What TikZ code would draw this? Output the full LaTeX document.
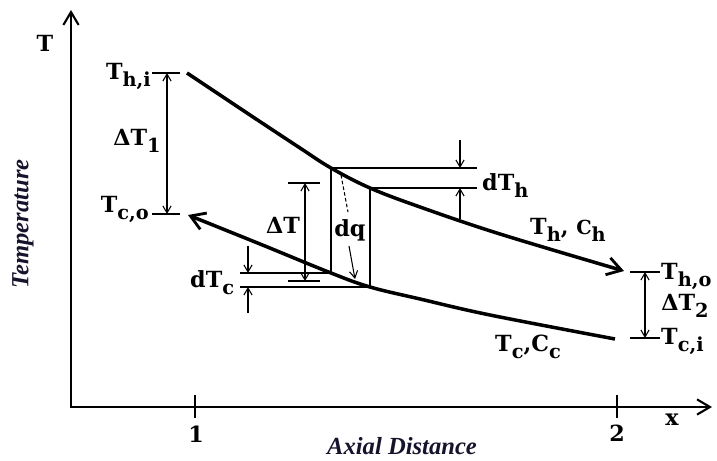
\documentclass[tikz,border=0pt]{standalone}
\usepackage{fontspec}
\setmainfont{DejaVu Serif}
\newfontfamily\axfont{Liberation Serif}
\usetikzlibrary{arrows.meta}
\newcommand\lsub[1]{\raisebox{-0.3em}{\fontsize{16.5}{16.5}\selectfont #1}}
\definecolor{axcol}{RGB}{22,20,45}
\begin{document}
\begin{tikzpicture}[x=0.03cm,y=-0.03cm,
  lab/.style={font=\fontsize{19}{22}\selectfont\bfseries, inner sep=0pt},
  axlab/.style={font=\axfont\fontsize{21}{24}\selectfont\bfseries\itshape, inner sep=0pt, text=axcol},
  axisline/.style={line width=1.8pt, {Straight Barb[length=11pt,width=13pt,line width=1.8pt]}-{Straight Barb[length=11pt,width=13pt,line width=1.8pt]}},
  curve/.style={line width=3pt, -{Straight Barb[length=12pt,width=15pt,line width=2.4pt]}},
  thinl/.style={line width=0.9pt},
  strip/.style={line width=1.6pt},
  dim/.style={thinl, {Straight Barb[length=6pt,width=7pt]}-{Straight Barb[length=6pt,width=7pt]}},
  pt/.style={thinl, -{Straight Barb[length=6pt,width=7pt]}},
]
\useasboundingbox (0,0) rectangle (717,461);
% axes
\coordinate (Ytop) at (71,10);
\coordinate (O) at (71,407);
\coordinate (Xend) at (712,407);
\draw[axisline] (Ytop) -- (O) -- (Xend);
\coordinate (t1a) at (195,395); \coordinate (t1b) at (195,418);
\coordinate (t2a) at (617,395); \coordinate (t2b) at (617,418);
\draw[line width=1.2pt] (t1a) -- (t1b);
\draw[line width=1.2pt] (t2a) -- (t2b);
\node[lab] (one) at (196,434) {1};
\node[lab] (two) at (617,433) {2};
\node[lab] (xl) at (672,420) {x};
\node[lab] (tl) at (45,43) {T};
\node[axlab, rotate=90] (templ) at (23,224) {Temperature};
\node[axlab] (axl) at (402,446) {Axial Distance};
% curve points
\coordinate (H1) at (187,73);
\coordinate (H2) at (331,168);
\coordinate (H3) at (370,188);
\coordinate (H4) at (624,271);
\coordinate (C1) at (615,339);
\coordinate (C3) at (370,287);
\coordinate (C2) at (331,273);
\coordinate (C4) at (188,215);
\draw[curve] plot[smooth, tension=0.6] coordinates {(H1) (250,115) (300,148) (H2) (H3) (420,207) (500,234) (H4)};
\draw[curve] plot[smooth, tension=0.6] coordinates {(C1) (490,315) (420,299) (C3) (C2) (260,244) (C4)};
% element strip
\draw[strip] (H2) -- (C2);
\draw[strip] (H3) -- (C3);
% dT_h
\coordinate (hA) at (477,168); \coordinate (hB) at (477,188);
\draw[thinl] (H2) -- (hA);
\draw[thinl] (H3) -- (hB);
\coordinate (hp1) at (460,140); \coordinate (hq1) at (460,168);
\coordinate (hp2) at (460,219); \coordinate (hq2) at (460,188);
\draw[pt] (hp1) -- (hq1);
\draw[pt] (hp2) -- (hq2);
\node[lab, anchor=base west] (dth) at (482,191) {dT\lsub{h}};
% dT_c
\coordinate (cA) at (240,273); \coordinate (cB) at (240,287);
\draw[thinl] (cA) -- (C2);
\draw[thinl] (cB) -- (C3);
\coordinate (cp1) at (248,246); \coordinate (cq1) at (248,273);
\coordinate (cp2) at (248,313); \coordinate (cq2) at (248,287);
\draw[pt] (cp1) -- (cq1);
\draw[pt] (cp2) -- (cq2);
\node[lab, anchor=base west] (dtc) at (190,288) {dT\lsub{c}};
% Delta T
\coordinate (dA1) at (288,183); \coordinate (dA2) at (320,183);
\coordinate (dB1) at (288,281); \coordinate (dB2) at (320,281);
\coordinate (dT1) at (305,183); \coordinate (dT2) at (305,281);
\draw[thinl] (dA1) -- (dA2);
\draw[thinl] (dB1) -- (dB2);
\draw[dim] (dT1) -- (dT2);
\node[lab] (dtl) at (283,225) {ΔT};
% dq
\coordinate (q1) at (341,175); \coordinate (q2) at (348,212);
\coordinate (q3) at (349,246); \coordinate (q4) at (355,279);
\draw[thinl, dash pattern=on 3pt off 2pt] (q1) -- (q2);
\draw[pt] (q3) -- (q4);
\node[lab] (dq) at (350,230) {dq};
% Delta T1
\coordinate (a1) at (152,73); \coordinate (a2) at (180,73);
\coordinate (b1) at (152,214); \coordinate (b2) at (180,214);
\coordinate (v1) at (167,73); \coordinate (v2) at (167,214);
\draw[thinl] (a1) -- (a2);
\draw[thinl] (b1) -- (b2);
\draw[dim] (v1) -- (v2);
\node[lab, anchor=base east] (thi) at (151,80) {T\lsub{h,i}};
\node[lab] (dt1) at (137,141) {ΔT\lsub{1}};
\node[lab, anchor=base east] (tco) at (149,213) {T\lsub{c,o}};
% Delta T2
\coordinate (e1) at (630,272); \coordinate (e2) at (660,272);
\coordinate (f1) at (630,338); \coordinate (f2) at (660,338);
\coordinate (w1) at (645,272); \coordinate (w2) at (645,338);
\draw[thinl] (e1) -- (e2);
\draw[thinl] (f1) -- (f2);
\draw[dim] (w1) -- (w2);
\node[lab, anchor=base west] (tho) at (661,280) {T\lsub{h,o}};
\node[lab] (dt2) at (685,306) {ΔT\lsub{2}};
\node[lab, anchor=base west] (tci) at (661,345) {T\lsub{c,i}};
% curve labels
\node[lab, anchor=base west] (thch) at (530,235) {T\lsub{h}, {\fontsize{16.5}{16.5}\selectfont C}\lsub{h}};
\node[lab, anchor=base west] (tccc) at (495,352) {T\lsub{c},C\lsub{c}};
\end{tikzpicture}
\end{document}
